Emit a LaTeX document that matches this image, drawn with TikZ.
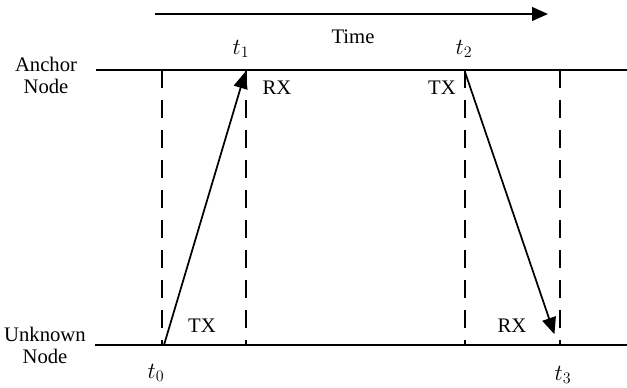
\documentclass[tikz,border=0pt]{standalone}
\usepackage{fontspec}
\setmainfont{Liberation Serif}
\usepackage{tikz}
\usetikzlibrary{arrows.meta}
\tikzset{
  >={Triangle[length=4.4mm,width=3.7mm]},
  figure label/.style={font=\fontsize{15.5}{16.5}\selectfont,align=center,inner sep=0pt},
  time label/.style={font=\fontsize{16.5}{17}\selectfont,inner sep=0pt},
  node line/.style={line width=1.5pt},
  slot mark/.style={dash pattern=on 13.5pt off 9pt,line width=1.4pt},
  message/.style={->,line width=1.3pt,shorten >=-1pt},
  time axis/.style={->,line width=1.6pt,>={Triangle[length=4.2mm,width=3.6mm]}}
}
\begin{document}
\begin{tikzpicture}[x=0.75pt,y=-0.75pt]
  \useasboundingbox (0,0) rectangle (627,388);

  % time direction
  \coordinate (time start) at (155,14);
  \coordinate (time end) at (548,14);
  \draw[time axis] (time start) -- (time end);
  \node[figure label] (time) at (353,37) {Time};

  % the two nodes
  \node[figure label] (anchor) at (46,75) {Anchor\\Node};
  \node[figure label] (unknown) at (45,345) {Unknown\\Node};
  \coordinate (anchor left) at (96,70);
  \coordinate (anchor right) at (627,70);
  \coordinate (unknown left) at (95,345);
  \coordinate (unknown right) at (627,345);
  \draw[node line] (anchor left) -- (anchor right);
  \draw[node line] (unknown left) -- (unknown right);

  % slot boundaries
  \foreach \name/\x in {a/162,b/246,c/465,d/560}{
    \coordinate (top \name) at (\x,70);
    \coordinate (bottom \name) at (\x,345);
    \draw[slot mark] (top \name) -- (bottom \name);
  }

  % timestamps
  \node[time label] (t0) at (156,373) {$t_0$};
  \node[time label] (t1) at (241,49) {$t_1$};
  \node[time label] (t2) at (464,49) {$t_2$};
  \node[time label] (t3) at (563,375) {$t_3$};

  \node[figure label] (rx1) at (277,88) {RX};
  \node[figure label] (tx2) at (442,88) {TX};
  \node[figure label] (tx1) at (202,326) {TX};
  \node[figure label] (rx2) at (512,326) {RX};

  % messages
  \coordinate (send up) at (164,345);
  \coordinate (recv up) at (245,73);
  \coordinate (send down) at (465,72);
  \coordinate (recv down) at (554,333);
  \draw[message] (send up) -- (recv up);
  \draw[message] (send down) -- (recv down);
\end{tikzpicture}
\end{document}
